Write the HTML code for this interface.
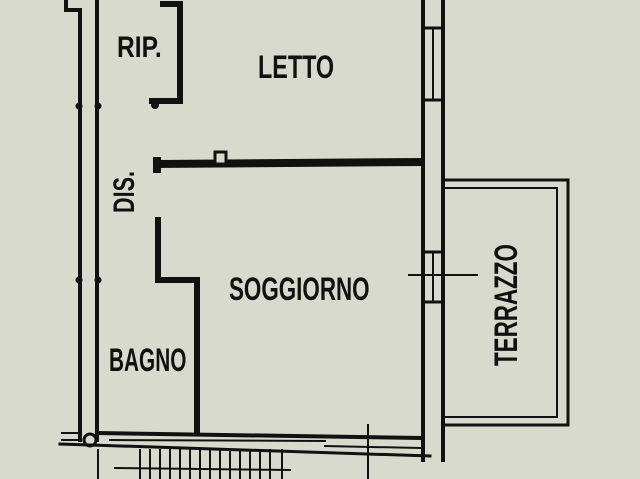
<!DOCTYPE html>
<html><head><style>
html,body{margin:0;padding:0;background:#d8dace;}
svg{display:block}
text{font-family:"Liberation Sans",sans-serif;font-weight:bold;fill:#111;}
</style></head><body>
<svg width="640" height="479" viewBox="0 0 640 479" xmlns="http://www.w3.org/2000/svg">
<rect width="640" height="479" fill="#d8dace"/>
<g stroke="#111" fill="none" stroke-linecap="square">
<polyline points="66,0 66,10 80,10 80,440" stroke-width="4"/>
<line x1="97" y1="0" x2="97" y2="440" stroke-width="4"/>
<circle cx="79" cy="106" r="3" fill="#111"/><circle cx="98" cy="106" r="3" fill="#111"/>
<circle cx="79" cy="280" r="3" fill="#111"/><circle cx="98" cy="280" r="3" fill="#111"/>
<polyline points="163,4 180,4 180,101 152,101" stroke-width="6"/>
<circle cx="155" cy="105" r="4" fill="#111" stroke="none"/>
<line x1="157" y1="164" x2="421" y2="162" stroke-width="8"/>
<rect x="153" y="157" width="8" height="16" fill="#111" stroke="none"/>
<rect x="215" y="152" width="11" height="12" fill="#d8dace" stroke-width="3"/>
<polyline points="158,220 158,280 197,280 197,432" stroke-width="6"/>
<line x1="97" y1="433" x2="420" y2="438" stroke-width="4"/>
<line x1="60" y1="444" x2="430" y2="456" stroke-width="3"/>
<line x1="110" y1="440" x2="325" y2="441" stroke-width="2"/>
<line x1="325" y1="446" x2="420" y2="448" stroke-width="2"/>
<line x1="62" y1="433" x2="80" y2="433" stroke-width="2"/>
<line x1="62" y1="440" x2="80" y2="440" stroke-width="2"/>
<circle cx="90" cy="440" r="6" stroke-width="3"/>
<line x1="368" y1="425" x2="368" y2="479" stroke-width="2"/>
<g stroke-width="2">
<line x1="98" y1="450" x2="98" y2="479"/>
<line x1="140" y1="450" x2="140" y2="479"/><line x1="150" y1="450" x2="150" y2="479"/>
<line x1="160" y1="450" x2="160" y2="479"/><line x1="170" y1="450" x2="170" y2="479"/>
<line x1="180" y1="450" x2="180" y2="479"/><line x1="190" y1="450" x2="190" y2="479"/>
<line x1="200" y1="450" x2="200" y2="479"/><line x1="210" y1="450" x2="210" y2="479"/>
<line x1="220" y1="450" x2="220" y2="479"/><line x1="230" y1="450" x2="230" y2="479"/>
<line x1="240" y1="450" x2="240" y2="479"/><line x1="250" y1="450" x2="250" y2="479"/>
<line x1="260" y1="450" x2="260" y2="479"/><line x1="270" y1="450" x2="270" y2="479"/>
<line x1="282" y1="450" x2="282" y2="479"/>
<line x1="115" y1="468" x2="290" y2="470"/>
</g>
<line x1="423" y1="0" x2="423" y2="460" stroke-width="4"/>
<line x1="443" y1="0" x2="443" y2="460" stroke-width="4"/>
<line x1="423" y1="28" x2="443" y2="28" stroke-width="3"/>
<line x1="423" y1="100" x2="443" y2="100" stroke-width="3"/>
<line x1="433" y1="30" x2="433" y2="98" stroke-width="2"/>
<line x1="423" y1="252" x2="443" y2="252" stroke-width="3"/>
<line x1="423" y1="302" x2="443" y2="302" stroke-width="3"/>
<line x1="433" y1="254" x2="433" y2="300" stroke-width="2"/>
<line x1="409" y1="275" x2="477" y2="275" stroke-width="2"/>
<polyline points="443,180 568,180 568,425 443,425" stroke-width="3"/>
<polyline points="443,188 557,188 557,417 443,417" stroke-width="2"/>
</g>
<g>
<text font-size="30" transform="translate(117 57) scale(0.82 1)">RIP.</text>
<text font-size="32" transform="translate(258 78) scale(0.73 1)">LETTO</text>
<text font-size="32" transform="translate(229 300) scale(0.70 1)">SOGGIORNO</text>
<text font-size="32" transform="translate(109 371) scale(0.65 1)">BAGNO</text>
<text font-size="30" transform="translate(134 213) rotate(-90) scale(0.72 1)">DIS.</text>
<text font-size="32" transform="translate(517 366) rotate(-90) scale(0.70 1)">TERRAZZO</text>
</g>
</svg>
</body></html>
